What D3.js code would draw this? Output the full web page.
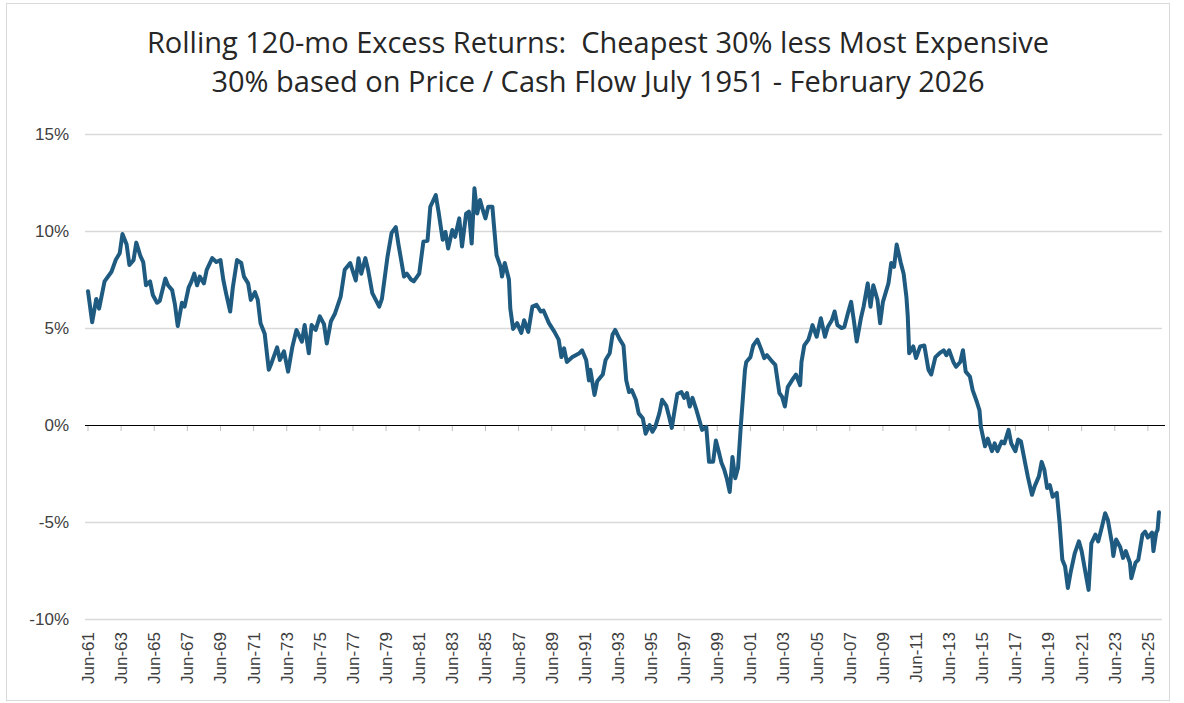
<!DOCTYPE html>
<html>
<head>
<meta charset="utf-8">
<script src="https://cdn.jsdelivr.net/npm/d3@7"></script>
<style>
  body { margin: 0; background: #fff; }
  text { font-family: "Liberation Sans", Arial, sans-serif; }
  .title { font-family: "Open Sans", "Liberation Sans", sans-serif; white-space: pre; }
</style>
</head>
<body>
<div class="chart"></div>
<script>

var titleLines = [
  "Rolling 120-mo Excess Returns:  Cheapest 30% less Most Expensive",
  "30% based on Price / Cash Flow July 1951 - February 2026"
];

var yTicks = [-10, -5, 0, 5, 10, 15];

var tickLabels = ["Jun-61","Jun-63","Jun-65","Jun-67","Jun-69","Jun-71","Jun-73","Jun-75",
  "Jun-77","Jun-79","Jun-81","Jun-83","Jun-85","Jun-87","Jun-89","Jun-91","Jun-93","Jun-95",
  "Jun-97","Jun-99","Jun-01","Jun-03","Jun-05","Jun-07","Jun-09","Jun-11","Jun-13","Jun-15",
  "Jun-17","Jun-19","Jun-21","Jun-23","Jun-25"];

// month of each reading (rolling window end)
var dates = [
  "1961-06","1961-09","1961-12","1962-02","1962-06","1962-11","1963-02","1963-05","1963-07","1963-10",
  "1963-12","1964-03","1964-05","1964-08","1964-10","1964-12","1965-03","1965-05","1965-08","1965-10",
  "1966-02","1966-04","1966-07","1966-09","1966-11","1967-02","1967-04","1967-07","1967-09","1967-11",
  "1968-01","1968-03","1968-06","1968-08","1968-12","1969-03","1969-06","1969-08","1969-10","1970-01",
  "1970-03","1970-06","1970-09","1970-11","1971-02","1971-04","1971-07","1971-09","1971-11","1972-02",
  "1972-05","1972-07","1972-11","1973-01","1973-04","1973-07","1973-10","1974-01","1974-05","1974-07",
  "1974-10","1974-12","1975-03","1975-06","1975-09","1975-11","1976-02","1976-05","1976-09","1976-12",
  "1977-04","1977-08","1977-10","1977-12","1978-03","1978-05","1978-08","1979-01","1979-03","1979-07",
  "1979-10","1980-01","1980-03","1980-07","1980-09","1980-12","1981-02","1981-06","1981-09","1981-12",
  "1982-02","1982-06","1982-08","1982-11","1983-01","1983-03","1983-06","1983-08","1983-11","1984-01",
  "1984-04","1984-06","1984-08","1984-10","1984-12","1985-02","1985-04","1985-06","1985-08","1985-11",
  "1985-12","1986-02","1986-05","1986-06","1986-08","1986-11","1986-12","1987-02","1987-05","1987-08",
  "1987-10","1988-01","1988-04","1988-07","1988-10","1988-12","1989-04","1989-08","1989-11","1990-01",
  "1990-03","1990-05","1990-09","1991-02","1991-04","1991-07","1991-09","1991-10","1992-01","1992-03",
  "1992-07","1992-09","1992-12","1993-02","1993-04","1993-07","1993-10","1993-12","1994-02","1994-04",
  "1994-07","1994-09","1994-12","1995-02","1995-05","1995-07","1995-09","1995-12","1996-02","1996-05",
  "1996-07","1996-09","1996-11","1997-01","1997-04","1997-06","1997-08","1997-10","1997-12","1998-03",
  "1998-05","1998-07","1998-10","1998-12","1999-03","1999-05","1999-07","1999-09","1999-11","2000-01",
  "2000-03","2000-05","2000-07","2000-09","2000-11","2001-02","2001-03","2001-06","2001-08","2001-11",
  "2002-02","2002-04","2002-06","2002-10","2002-12","2003-03","2003-05","2003-07","2003-09","2004-01",
  "2004-03","2004-06","2004-07","2004-09","2004-12","2005-02","2005-03","2005-06","2005-09","2005-12",
  "2006-02","2006-05","2006-07","2006-09","2006-12","2007-02","2007-05","2007-07","2007-09","2007-11",
  "2008-02","2008-04","2008-07","2008-09","2008-11","2009-02","2009-04","2009-06","2009-10","2009-12",
  "2010-02","2010-04","2010-07","2010-09","2010-11","2010-12","2011-01","2011-04","2011-06","2011-09",
  "2011-12","2012-03","2012-05","2012-08","2012-11","2013-02","2013-04","2013-06","2013-09","2013-11",
  "2014-02","2014-04","2014-06","2014-09","2014-11","2015-02","2015-04","2015-05","2015-08","2015-10",
  "2016-01","2016-03","2016-05","2016-08","2016-10","2017-01","2017-03","2017-06","2017-08","2017-10",
  "2018-01","2018-03","2018-06","2018-08","2018-11","2019-01","2019-03","2019-05","2019-07","2019-09",
  "2019-12","2020-02","2020-04","2020-06","2020-08","2020-10","2021-01","2021-04","2021-06","2021-08",
  "2021-11","2022-01","2022-04","2022-06","2022-09","2022-11","2023-01","2023-04","2023-05","2023-07",
  "2023-10","2023-12","2024-02","2024-05","2024-06","2024-09","2024-11","2025-02","2025-04","2025-06",
  "2025-09","2025-10","2025-12","2026-01","2026-02"
];

// excess return, percent
var values = [
  6.9, 5.3, 6.5, 6.0, 7.4, 7.9, 8.5, 8.85, 9.85, 9.3,
  8.25, 8.5, 9.4, 8.7, 8.4, 7.2, 7.4, 6.7, 6.3, 6.4,
  7.55, 7.2, 6.95, 6.2, 5.1, 6.3, 6.1, 7.1, 7.4, 7.8,
  7.2, 7.65, 7.3, 8.0, 8.6, 8.4, 8.5, 7.5, 6.8, 5.85,
  7.1, 8.5, 8.35, 7.65, 7.3, 6.45, 6.85, 6.45, 5.25, 4.7,
  2.85, 3.2, 4.0, 3.35, 3.8, 2.75, 4.0, 4.9, 4.3, 5.15,
  3.7, 5.15, 4.9, 5.6, 5.2, 4.2, 5.35, 5.75, 6.6, 8.0,
  8.35, 7.45, 8.6, 7.8, 8.6, 8.0, 6.8, 6.1, 6.5, 8.65,
  9.9, 10.2, 9.3, 7.65, 7.8, 7.5, 7.4, 7.8, 9.45, 9.5,
  11.25, 11.85, 11.0, 9.55, 9.95, 9.1, 10.05, 9.7, 10.65, 9.2,
  10.9, 11.0, 9.35, 12.2, 10.9, 11.6, 11.1, 10.65, 11.25, 11.25,
  10.4, 8.75, 8.15, 7.65, 8.35, 7.5, 6.0, 4.95, 5.25, 4.75,
  5.4, 4.8, 6.1, 6.2, 5.85, 5.9, 5.25, 4.8, 4.4, 3.5,
  3.95, 3.25, 3.5, 3.7, 3.85, 3.35, 2.3, 2.85, 1.55, 2.25,
  2.6, 3.35, 3.7, 4.65, 4.9, 4.45, 4.1, 2.3, 1.7, 1.8,
  1.3, 0.6, 0.35, -0.45, 0.0, -0.35, -0.1, 0.6, 1.3, 1.0,
  0.45, -0.15, 0.75, 1.6, 1.7, 1.4, 1.65, 0.95, 1.4, 0.75,
  0.25, -0.25, -0.1, -1.9, -1.9, -0.8, -1.35, -1.95, -2.3, -2.8,
  -3.45, -1.65, -2.75, -2.2, -0.05, 2.85, 3.25, 3.5, 4.1, 4.4,
  3.85, 3.45, 3.6, 3.25, 3.1, 1.65, 1.45, 0.95, 1.95, 2.4,
  2.6, 2.05, 3.25, 4.1, 4.4, 4.9, 5.15, 4.55, 5.5, 4.55,
  5.05, 5.4, 5.85, 5.15, 5.0, 5.05, 5.85, 6.35, 5.35, 4.3,
  5.5, 6.1, 7.3, 6.1, 7.2, 6.45, 5.25, 6.35, 7.3, 8.35,
  8.15, 9.3, 8.35, 7.8, 6.6, 5.6, 3.7, 4.05, 3.45, 4.05,
  4.1, 2.85, 2.6, 3.5, 3.7, 3.85, 3.6, 3.85, 3.25, 3.0,
  3.25, 3.85, 2.75, 2.5, 1.8, 1.2, 0.75, -0.1, -1.1, -0.7,
  -1.35, -0.95, -1.35, -0.85, -0.95, -0.25, -0.95, -1.35, -0.75, -0.85,
  -1.95, -2.65, -3.6, -3.15, -2.65, -1.9, -2.3, -3.25, -3.1, -3.7,
  -3.5, -5.05, -6.95, -7.3, -8.4, -7.6, -6.6, -6.0, -6.5, -7.3,
  -8.5, -6.1, -5.65, -6.0, -5.15, -4.55, -4.9, -6.1, -6.75, -5.9,
  -6.3, -6.85, -6.5, -7.1, -7.9, -7.1, -6.95, -5.65, -5.5, -5.8,
  -5.55, -6.5, -5.55, -5.4, -4.5
];

var W = 1184, H = 703;
var parseMonth = d3.timeParse("%Y-%m");
var parseTick = function(s){
  var yy = +s.slice(4);
  return new Date(yy > 50 ? 1900 + yy : 2000 + yy, 5, 1);
};

var data = dates.map(function(d, i){ return { date: parseMonth(d), value: values[i] }; });

var svg = d3.select(".chart").append("svg")
    .attr("width", W)
    .attr("height", H);

// outer frame
svg.append("rect")
    .attr("x", 6.5).attr("y", 3.5)
    .attr("width", 1163).attr("height", 697)
    .attr("fill", "#fff")
    .attr("stroke", "#d9d9d9");

// title
svg.selectAll(".title")
    .data(titleLines)
  .enter().append("text")
    .attr("class", "title")
    .attr("x", 598)
    .attr("y", function(d, i){ return 53 + i * 39; })
    .attr("text-anchor", "middle")
    .attr("font-size", "29px")
    .attr("fill", "#262626")
    .text(function(d){ return d; });

var x = d3.scaleTime()
    .domain([parseMonth("1961-06"), parseMonth("2026-02")])
    .range([88, 1159]);

var y = d3.scaleLinear()
    .domain([-10, 15])
    .range([619, 134]);

var plotLeft = 85, plotRight = 1162;

// gridlines
svg.append("g")
  .selectAll("line")
    .data(yTicks.filter(function(t){ return t !== 0; }))
  .enter().append("line")
    .attr("x1", plotLeft).attr("x2", plotRight)
    .attr("y1", function(d){ return Math.round(y(d)) + 0.5; })
    .attr("y2", function(d){ return Math.round(y(d)) + 0.5; })
    .attr("stroke", "#d9d9d9")
    .attr("stroke-width", 1.5);

// y labels
svg.append("g")
  .selectAll("text")
    .data(yTicks)
  .enter().append("text")
    .attr("x", 69)
    .attr("y", function(d){ return y(d); })
    .attr("dy", "0.35em")
    .attr("text-anchor", "end")
    .attr("font-size", "17px")
    .attr("fill", "#404040")
    .text(function(d){ return d + "%"; });

// category axis on the zero line
var axisG = svg.append("g")
    .attr("transform", "translate(0," + Math.round(y(0)) + ")");

axisG.selectAll(".tick")
    .data(tickLabels)
  .enter().append("line")
    .attr("class", "tick")
    .attr("x1", function(d){ return x(parseTick(d)); })
    .attr("x2", function(d){ return x(parseTick(d)); })
    .attr("y1", 1).attr("y2", 6)
    .attr("stroke", "#bfbfbf");

axisG.append("line")
    .attr("x1", plotLeft).attr("x2", plotRight + 3)
    .attr("y1", 0.5).attr("y2", 0.5)
    .attr("stroke", "#000")
    .attr("stroke-width", 1.2);

// x labels, rotated
svg.append("g")
  .selectAll("text")
    .data(tickLabels)
  .enter().append("text")
    .attr("transform", function(d){
      return "translate(" + x(parseTick(d)) + ",632) rotate(-90)";
    })
    .attr("dy", "0.35em")
    .attr("text-anchor", "end")
    .attr("font-size", "17px")
    .attr("fill", "#404040")
    .text(function(d){ return d; });

// series
var line = d3.line()
    .x(function(d){ return x(d.date); })
    .y(function(d){ return y(d.value); })
    .curve(d3.curveLinear);

svg.append("path")
    .datum(data)
    .attr("d", line)
    .attr("fill", "none")
    .attr("stroke", "#1f5b80")
    .attr("stroke-width", 4)
    .attr("stroke-linejoin", "round")
    .attr("stroke-linecap", "round");

</script>
</body>
</html>
